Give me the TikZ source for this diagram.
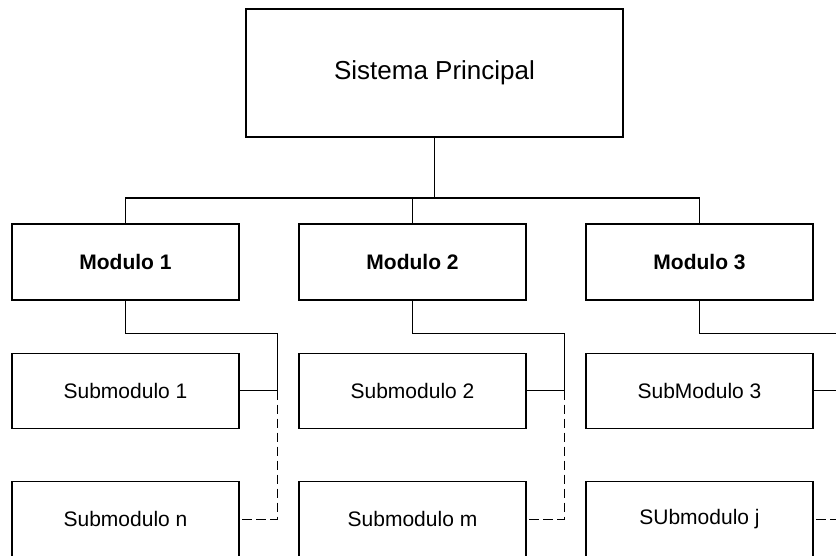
\documentclass[tikz,border=0pt]{standalone}
\usepackage{fontspec}
\setmainfont{Liberation Sans}
\usetikzlibrary{calc}
\begin{document}
\begin{tikzpicture}[x=0.75pt,y=-0.75pt,
  line width=0.9pt,
  topbox/.style={draw,rectangle,minimum width=377*0.75pt,minimum height=128*0.75pt,
    inner sep=0pt,font=\fontsize{19.5}{23}\selectfont},
  modbox/.style={draw,rectangle,minimum width=227*0.75pt,minimum height=76*0.75pt,
    inner sep=0pt,font=\fontsize{15.75}{19}\selectfont\bfseries},
  subbox/.style={draw,rectangle,minimum width=227*0.75pt,minimum height=75*0.75pt,
    inner sep=0pt,font=\fontsize{15.75}{19}\selectfont},
  link/.style={line width=0.9pt},
  optlink/.style={line width=0.9pt,dash pattern=on 7pt off 3.5pt}]
\useasboundingbox (0,0) rectangle (836,556);
\clip (0,0) rectangle (836,556);

% main system
\node[topbox] (sys) at (434.5,73) {Sistema Principal};

% modules
\node[modbox] (mod1) at (125.5,262) {Modulo 1};
\node[modbox] (mod2) at (412.5,262) {Modulo 2};
\node[modbox] (mod3) at (699.5,262) {Modulo 3};

% submodules
\node[subbox] (sub1) at (125.5,390.7) {Submodulo 1};
\node[subbox] (sub2) at (412.5,390.7) {Submodulo 2};
\node[subbox] (sub3) at (699.5,390.7) {SubModulo 3};
\node[subbox] (subn) at (125.5,519.2) {Submodulo n};
\node[subbox] (subm) at (412.5,519.2) {Submodulo m};
\node[subbox] (subj) at (699.5,519.2) {SUbmodulo j};

% bus from the system to the modules
\coordinate (bus) at (435,198);
\draw[link] (sys.south) -- (sys.south |- bus);
\draw[link] (mod1.north) |- (bus) -| (mod3.north);
\draw[link] (mod2.north) -- (mod2.north |- bus);

% branches from each module to its submodules
\foreach \m/\a/\b in {1/sub1/subn, 2/sub2/subm, 3/sub3/subj}{
  \coordinate (s\m) at ($(\a.east)+(37.5,0)$);
  \coordinate (b\m) at ($(s\m)+(0,-57.4)$);
  \draw[link] (mod\m.south) |- (b\m) -- (s\m) -- (\a.east);
  \draw[optlink] (s\m) |- (\b.east);
}
\end{tikzpicture}
\end{document}
